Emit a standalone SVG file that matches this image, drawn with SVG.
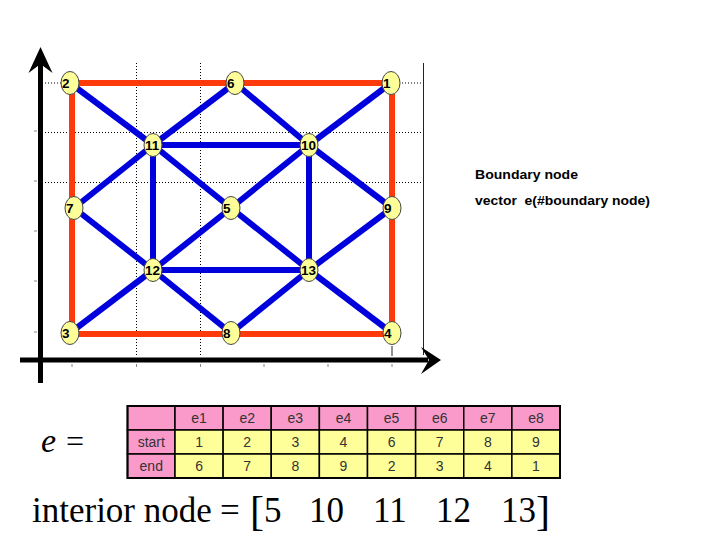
<svg xmlns="http://www.w3.org/2000/svg" width="720" height="540" viewBox="0 0 720 540">
<style>
.grid{stroke:#000;stroke-width:1;stroke-dasharray:1 2;fill:none}
.axis{stroke:#000;stroke-width:5;fill:none}
.red{stroke:#FF3A0A;stroke-width:6;fill:none}
.blue{stroke:#0000DD;stroke-width:6;fill:none;stroke-linecap:butt}
.node ellipse{fill:#FFFF99;stroke:#444;stroke-width:1}
.node text{font-family:"Liberation Sans",Arial,sans-serif;font-weight:bold;font-size:13.5px;fill:#000}
.tick{stroke:#888;stroke-width:1}
.lbl{font-family:"Liberation Sans",Arial,sans-serif;font-weight:bold;font-size:13.5px;fill:#000}
.th{fill:#F99ACB;stroke:#000;stroke-width:1.5}
.td{fill:#FFFF99;stroke:#000;stroke-width:1.5}
.tt{font-family:"Liberation Sans",Arial,sans-serif;font-size:14px;fill:#333;text-anchor:middle}
.math{font-family:"Liberation Serif","Times New Roman",serif;fill:#000}
</style>
<rect width="720" height="540" fill="#fff"/>
<g id="plot-frame">
<line class="grid" x1="45" y1="83" x2="423" y2="83"/>
<line class="grid" x1="45" y1="132.5" x2="423" y2="132.5"/>
<line class="grid" x1="45" y1="182.5" x2="423" y2="182.5"/>
<line class="grid" x1="136.5" y1="63" x2="136.5" y2="356"/>
<line class="grid" x1="200.5" y1="63" x2="200.5" y2="356"/>
<line x1="423.5" y1="63" x2="423.5" y2="355" stroke="#222" stroke-width="1"/>
<line x1="392" y1="346" x2="392" y2="356" stroke="#222" stroke-width="1"/>
<line class="tick" x1="34" y1="131" x2="37" y2="131"/>
<line class="tick" x1="34" y1="181" x2="37" y2="181"/>
<line class="tick" x1="34" y1="231" x2="37" y2="231"/>
<line class="tick" x1="34" y1="281" x2="37" y2="281"/>
<line class="tick" x1="34" y1="332" x2="37" y2="332"/>
<line class="tick" x1="72" y1="364" x2="72" y2="367"/>
<line class="tick" x1="136.5" y1="364" x2="136.5" y2="367"/>
<line class="tick" x1="200.5" y1="364" x2="200.5" y2="367"/>
<line class="tick" x1="264" y1="364" x2="264" y2="367"/>
<line class="tick" x1="328" y1="364" x2="328" y2="367"/>
<line class="tick" x1="392" y1="364" x2="392" y2="367"/>
</g>
<g id="axes">
<line class="axis" x1="40.5" y1="60" x2="40.5" y2="383"/>
<path d="M40.5,47 L28.5,73 L40.5,64 L52.5,73 Z" fill="#000"/>
<line class="axis" x1="20" y1="360" x2="428" y2="360"/>
<path d="M441,360 L421,347 L429,360 L421,374 Z" fill="#000"/>
</g>
<g id="connectors">
<path class="red" d="M72,83 H392 V334 H72 Z"/>
<line class="blue" x1="70" y1="83" x2="153" y2="145"/>
<line class="blue" x1="153" y1="145" x2="235" y2="83"/>
<line class="blue" x1="235" y1="83" x2="309" y2="145"/>
<line class="blue" x1="309" y1="145" x2="391" y2="83"/>
<line class="blue" x1="153" y1="145" x2="309" y2="145"/>
<line class="blue" x1="153" y1="145" x2="74" y2="208"/>
<line class="blue" x1="153" y1="145" x2="231" y2="208"/>
<line class="blue" x1="153" y1="145" x2="153" y2="270"/>
<line class="blue" x1="309" y1="145" x2="231" y2="208"/>
<line class="blue" x1="309" y1="145" x2="392" y2="208"/>
<line class="blue" x1="309" y1="145" x2="309" y2="270"/>
<line class="blue" x1="74" y1="208" x2="153" y2="270"/>
<line class="blue" x1="231" y1="208" x2="153" y2="270"/>
<line class="blue" x1="231" y1="208" x2="309" y2="270"/>
<line class="blue" x1="392" y1="208" x2="309" y2="270"/>
<line class="blue" x1="153" y1="270" x2="309" y2="270"/>
<line class="blue" x1="153" y1="270" x2="70" y2="333"/>
<line class="blue" x1="153" y1="270" x2="231" y2="333"/>
<line class="blue" x1="309" y1="270" x2="231" y2="333"/>
<line class="blue" x1="309" y1="270" x2="392" y2="333"/>
</g>
<g id="n1" class="node"><ellipse cx="391" cy="83" rx="9" ry="11.5"/><text x="383" y="88">1</text></g>
<g id="n2" class="node"><ellipse cx="70" cy="83" rx="9" ry="11.5"/><text x="62" y="88">2</text></g>
<g id="n3" class="node"><ellipse cx="70" cy="333" rx="9" ry="11.5"/><text x="62" y="338">3</text></g>
<g id="n4" class="node"><ellipse cx="392" cy="333" rx="9" ry="11.5"/><text x="384" y="338">4</text></g>
<g id="n5" class="node"><ellipse cx="231" cy="208" rx="9" ry="11.5"/><text x="223" y="213">5</text></g>
<g id="n6" class="node"><ellipse cx="235" cy="83" rx="9" ry="11.5"/><text x="227" y="88">6</text></g>
<g id="n7" class="node"><ellipse cx="74" cy="208" rx="9" ry="11.5"/><text x="66" y="213">7</text></g>
<g id="n8" class="node"><ellipse cx="231" cy="333" rx="9" ry="11.5"/><text x="223" y="338">8</text></g>
<g id="n9" class="node"><ellipse cx="392" cy="208" rx="9" ry="11.5"/><text x="384" y="213">9</text></g>
<g id="n10" class="node"><ellipse cx="309" cy="145" rx="9" ry="11.5"/><text x="301" y="150">10</text></g>
<g id="n11" class="node"><ellipse cx="153" cy="145" rx="9" ry="11.5"/><text x="145" y="150">11</text></g>
<g id="n12" class="node"><ellipse cx="153" cy="270" rx="9" ry="11.5"/><text x="145" y="275">12</text></g>
<g id="n13" class="node"><ellipse cx="309" cy="270" rx="9" ry="11.5"/><text x="301" y="275">13</text></g>
<g id="legend">
<text class="lbl" x="475" y="179" textLength="103" lengthAdjust="spacingAndGlyphs">Boundary node</text>
<text class="lbl" x="475" y="205" textLength="175" lengthAdjust="spacingAndGlyphs" xml:space="preserve">vector  e(#boundary node)</text>
</g>
<g id="table">
<rect class="th" x="127.5" y="406" width="47.5" height="24"/>
<rect class="th" x="127.5" y="430" width="47.5" height="24"/>
<rect class="th" x="127.5" y="454" width="47.5" height="24"/>
<rect class="th" x="175" y="406" width="48.125" height="24"/>
<rect class="th" x="223.125" y="406" width="48.125" height="24"/>
<rect class="th" x="271.25" y="406" width="48.125" height="24"/>
<rect class="th" x="319.375" y="406" width="48.125" height="24"/>
<rect class="th" x="367.5" y="406" width="48.125" height="24"/>
<rect class="th" x="415.625" y="406" width="48.125" height="24"/>
<rect class="th" x="463.75" y="406" width="48.125" height="24"/>
<rect class="th" x="511.875" y="406" width="48.125" height="24"/>
<rect class="td" x="175" y="430" width="48.125" height="24"/>
<rect class="td" x="223.125" y="430" width="48.125" height="24"/>
<rect class="td" x="271.25" y="430" width="48.125" height="24"/>
<rect class="td" x="319.375" y="430" width="48.125" height="24"/>
<rect class="td" x="367.5" y="430" width="48.125" height="24"/>
<rect class="td" x="415.625" y="430" width="48.125" height="24"/>
<rect class="td" x="463.75" y="430" width="48.125" height="24"/>
<rect class="td" x="511.875" y="430" width="48.125" height="24"/>
<rect class="td" x="175" y="454" width="48.125" height="24"/>
<rect class="td" x="223.125" y="454" width="48.125" height="24"/>
<rect class="td" x="271.25" y="454" width="48.125" height="24"/>
<rect class="td" x="319.375" y="454" width="48.125" height="24"/>
<rect class="td" x="367.5" y="454" width="48.125" height="24"/>
<rect class="td" x="415.625" y="454" width="48.125" height="24"/>
<rect class="td" x="463.75" y="454" width="48.125" height="24"/>
<rect class="td" x="511.875" y="454" width="48.125" height="24"/>
<rect x="127.5" y="406" width="432.5" height="72" fill="none" stroke="#000" stroke-width="2"/>
<text class="tt" x="151.25" y="447">start</text>
<text class="tt" x="151.25" y="471">end</text>
<text class="tt" x="199.06" y="423">e1</text>
<text class="tt" x="247.19" y="423">e2</text>
<text class="tt" x="295.31" y="423">e3</text>
<text class="tt" x="343.44" y="423">e4</text>
<text class="tt" x="391.56" y="423">e5</text>
<text class="tt" x="439.69" y="423">e6</text>
<text class="tt" x="487.81" y="423">e7</text>
<text class="tt" x="535.94" y="423">e8</text>
<text class="tt" x="199.06" y="447">1</text>
<text class="tt" x="247.19" y="447">2</text>
<text class="tt" x="295.31" y="447">3</text>
<text class="tt" x="343.44" y="447">4</text>
<text class="tt" x="391.56" y="447">6</text>
<text class="tt" x="439.69" y="447">7</text>
<text class="tt" x="487.81" y="447">8</text>
<text class="tt" x="535.94" y="447">9</text>
<text class="tt" x="199.06" y="471">6</text>
<text class="tt" x="247.19" y="471">7</text>
<text class="tt" x="295.31" y="471">8</text>
<text class="tt" x="343.44" y="471">9</text>
<text class="tt" x="391.56" y="471">2</text>
<text class="tt" x="439.69" y="471">3</text>
<text class="tt" x="487.81" y="471">4</text>
<text class="tt" x="535.94" y="471">1</text>
</g>
<g id="equation-e">
<text class="math" x="41" y="452" font-size="34" font-style="italic">e</text>
<text class="math" x="66" y="452" font-size="32">=</text>
</g>
<g id="equation-interior">
<text class="math" x="32" y="522" font-size="35">interior node</text>
<text class="math" x="220" y="522" font-size="35">=</text>
<text class="math" x="250" y="525" font-size="42">[</text>
<text class="math" x="264" y="522" font-size="35">5</text>
<text class="math" x="309" y="522" font-size="35">10</text>
<text class="math" x="373" y="522" font-size="35">11</text>
<text class="math" x="436" y="522" font-size="35">12</text>
<text class="math" x="501" y="522" font-size="35">13</text>
<text class="math" x="536" y="525" font-size="42">]</text>
</g>
</svg>
